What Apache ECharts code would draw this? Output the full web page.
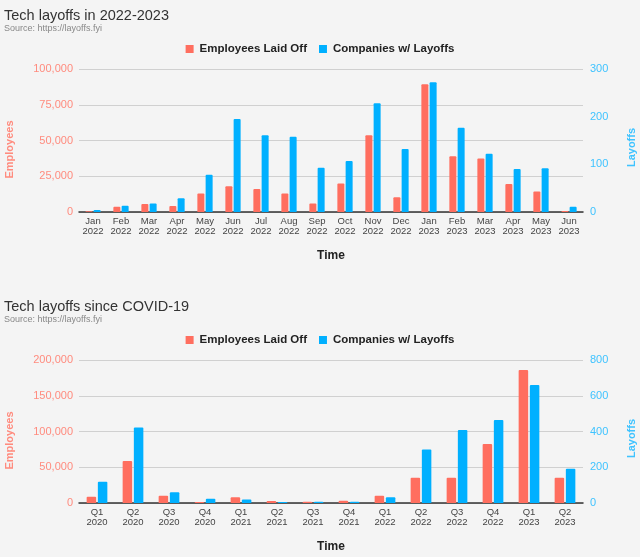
<!DOCTYPE html>
<html><head><meta charset="utf-8">
<script src="https://cdn.jsdelivr.net/npm/echarts@6/dist/echarts.min.js"></script>
<style>html,body{margin:0;padding:0;background:#f4f4f4}#c{width:640px;height:557px}</style>
</head><body><div id="c"></div>
<script>
// Chart 1: monthly, 2022-2023
var months = ["Jan\n2022","Feb\n2022","Mar\n2022","Apr\n2022","May\n2022","Jun\n2022","Jul\n2022","Aug\n2022","Sep\n2022","Oct\n2022","Nov\n2022","Dec\n2022","Jan\n2023","Feb\n2023","Mar\n2023","Apr\n2023","May\n2023","Jun\n2023"];
var monthlyEmployees = [500, 3700, 5600, 4200, 13000, 18000, 16100, 13000, 6000, 20000, 53600, 10300, 89300, 38900, 37500, 19600, 14400, 700];
var monthlyCompanies = [4, 13, 18, 29, 78, 195, 161, 158, 93, 107, 228, 132, 272, 177, 122, 90, 92, 11];
// Chart 2: quarterly since COVID-19
var quarters = ["Q1\n2020","Q2\n2020","Q3\n2020","Q4\n2020","Q1\n2021","Q2\n2021","Q3\n2021","Q4\n2021","Q1\n2022","Q2\n2022","Q3\n2022","Q4\n2022","Q1\n2023","Q2\n2023"];
var quarterlyEmployees = [8900, 58700, 10200, 1400, 7900, 2800, 1900, 3300, 10200, 35400, 35400, 82500, 186000, 35400];
var quarterlyCompanies = [119, 423, 60, 24, 19, 6, 7, 7, 32, 300, 408, 464, 660, 192];

var seriesNames = ["Employees Laid Off", "Companies w/ Layoffs"];
var RED = "#ff6e5f", BLUE = "#00b0ff", RED_L = "#ff8b7e", BLUE_L = "#3fc3ff";
var FONT = "Arial, 'Liberation Sans', sans-serif";

function fmt(v){ return v.toLocaleString('en-US'); }

function xAxisCfg(idx, cats){
  return {type:'category', gridIndex: idx, data: cats,
    axisLine:{lineStyle:{color:'#333', width:1.5}}, axisTick:{show:false},
    axisLabel:{interval:0, color:'#444', fontSize:9.5, lineHeight:10, margin:4, fontFamily:FONT},
    name:'Time', nameLocation:'middle', nameGap:38,
    nameTextStyle:{color:'#222', fontWeight:'bold', fontSize:12, fontFamily:FONT}};
}
function leftAxis(idx, max, interval){
  return {type:'value', gridIndex: idx, min:0, max:max, interval:interval,
    axisLine:{show:false}, axisTick:{show:false},
    axisLabel:{color:RED_L, fontSize:11, margin:6, fontFamily:FONT, formatter:fmt},
    splitLine:{lineStyle:{color:'#d0d0d0', width:1}},
    name:'Employees', nameLocation:'middle', nameGap:64, nameRotate:90,
    nameTextStyle:{color:RED_L, fontWeight:'bold', fontSize:11, fontFamily:FONT, padding:[0,0,0,-18]}};
}
function rightAxis(idx, max, interval){
  return {type:'value', gridIndex: idx, position:'right', min:0, max:max, interval:interval,
    axisLine:{show:false}, axisTick:{show:false}, splitLine:{show:false},
    axisLabel:{color:BLUE_L, fontSize:11, margin:7, fontFamily:FONT},
    name:'Layoffs', nameLocation:'middle', nameGap:43, nameRotate:90,
    nameTextStyle:{color:BLUE_L, fontWeight:'bold', fontSize:11, fontFamily:FONT, padding:[0,0,0,-14]}};
}
function legendCfg(top){
  return {top: top, left:'center', icon:'rect', itemWidth:8, itemHeight:8, itemGap:12,
    data: seriesNames, selectedMode:false,
    textStyle:{color:'#222', fontWeight:'bold', fontSize:11.5, fontFamily:FONT, padding:[0,0,0,1]}};
}
function bar(name, data, color, xi, yi, w){
  return {type:'bar', name:name, data:data, xAxisIndex:xi, yAxisIndex:yi,
    barWidth:w, barGap:'18%', itemStyle:{color:color, borderRadius:[1,1,0,0]}};
}

var chart = echarts.init(document.getElementById('c'), null, {renderer:'canvas'});
chart.setOption({
  backgroundColor:'#f4f4f4',
  animation:false,
  title:[
    {text:'Tech layoffs in 2022-2023', subtext:'Source: https://layoffs.fyi', left:-1, top:3, itemGap:1,
     textStyle:{color:'#333', fontWeight:'normal', fontSize:14.5, fontFamily:FONT},
     subtextStyle:{color:'#888', fontSize:9, fontFamily:FONT}},
    {text:'Tech layoffs since COVID-19', subtext:'Source: https://layoffs.fyi', left:-1, top:294, itemGap:1,
     textStyle:{color:'#333', fontWeight:'normal', fontSize:14.5, fontFamily:FONT},
     subtextStyle:{color:'#888', fontSize:9, fontFamily:FONT}}
  ],
  legend:[legendCfg(38), legendCfg(329)],
  grid:[
    {left:79, right:57, top:69, height:143, outerBoundsMode:'none', containLabel:false},
    {left:79, right:57, top:360, height:143, outerBoundsMode:'none', containLabel:false}
  ],
  xAxis:[xAxisCfg(0, months), xAxisCfg(1, quarters)],
  yAxis:[leftAxis(0, 100000, 25000), rightAxis(0, 300, 100), leftAxis(1, 200000, 50000), rightAxis(1, 800, 200)],
  series:[
    bar(seriesNames[0], monthlyEmployees, RED, 0, 0, 7),
    bar(seriesNames[1], monthlyCompanies, BLUE, 0, 1, 7),
    bar(seriesNames[0], quarterlyEmployees, RED, 1, 2, 9.5),
    bar(seriesNames[1], quarterlyCompanies, BLUE, 1, 3, 9.5)
  ]
});
</script></body></html>
